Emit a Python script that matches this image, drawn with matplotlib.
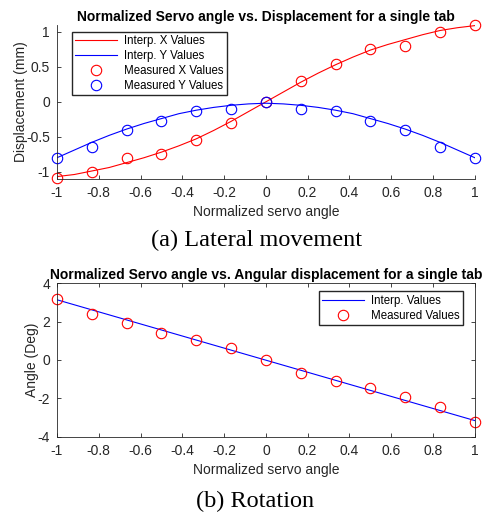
"""Servo angle vs displacement / rotation for a single tab (two panels)."""

import matplotlib
matplotlib.use("Agg")
import matplotlib.pyplot as plt

# servo positions (13 measured samples)
servo = [-1, -5/6, -4/6, -3/6, -2/6, -1/6, 0, 1/6, 2/6, 3/6, 4/6, 5/6, 1]
meas_x = [-1.09, -1.0, -0.8, -0.75, -0.54, -0.3, 0.0, 0.3, 0.54, 0.76, 0.8, 1.0, 1.1]
meas_y = [-0.8, -0.64, -0.4, -0.28, -0.13, -0.1, 0.0, -0.1, -0.13, -0.28, -0.4, -0.64, -0.8]
meas_rot = [3.18, 2.4, 1.91, 1.43, 1.04, 0.63, 0.0, -0.66, -1.08, -1.46, -1.95, -2.43, -3.22]

# interpolated curves
interp_s = [-1, -11/12, -10/12, -9/12, -8/12, -7/12, -6/12, -5/12, -4/12, -3/12,
            -2/12, -1/12, 0, 1/12, 2/12, 3/12, 4/12, 5/12, 6/12, 7/12, 8/12,
            9/12, 10/12, 11/12, 1]
interp_x = [-1.07, -1.04, -0.99, -0.94, -0.87, -0.80, -0.72, -0.63, -0.53, -0.41,
            -0.28, -0.14, 0.0, 0.14, 0.28, 0.41, 0.53, 0.64, 0.74, 0.82, 0.89,
            0.96, 1.02, 1.06, 1.09]
interp_y = [-0.80, -0.69, -0.58, -0.48, -0.39, -0.31, -0.24, -0.17, -0.12, -0.08,
            -0.05, -0.03, -0.02, -0.03, -0.05, -0.08, -0.12, -0.17, -0.24, -0.31,
            -0.39, -0.48, -0.58, -0.69, -0.80]
rot_s = [-1, 1]
rot_line = [3.14, -3.16]

AX_GREY = "#262626"
plt.rcParams["font.family"] = ["Liberation Sans", "DejaVu Sans"]
plt.rcParams["axes.unicode_minus"] = False

fig = plt.figure(figsize=(4.87, 5.16), dpi=100)
ax1 = fig.add_axes([0.117, 0.6537, 0.858, 0.298])
ax2 = fig.add_axes([0.117, 0.1537, 0.858, 0.2973])

mk = dict(ls="none", marker="o", ms=7.5, mfc="none", mew=0.8, clip_on=False)

ax1.plot(interp_s, interp_x, color="red", lw=0.8, label="Interp. X Values")
ax1.plot(interp_s, interp_y, color="blue", lw=0.8, label="Interp. Y Values")
ax1.plot(servo, meas_x, mec="red", label="Measured X Values", **mk)
ax1.plot(servo, meas_y, mec="blue", label="Measured Y Values", **mk)
ax1.set_xlim(-1, 1)
ax1.set_ylim(-1.1, 1.1)
ax1.set_yticks([-1, -0.5, 0, 0.5, 1])
ax1.set_yticklabels(["-1", "-0.5", "0", "0.5", "1"])
ax1.set_title("Normalized Servo angle vs. Displacement for a single tab",
              fontsize=10, fontweight="bold", pad=3)
ax1.set_ylabel("Displacement (mm)", fontsize=10, color=AX_GREY, labelpad=-1)
ax1.spines["top"].set_visible(False)
ax1.spines["right"].set_visible(False)
ax1.tick_params(top=False, right=False)
ax1.legend(loc="upper left", bbox_to_anchor=(0.036, 0.955), fontsize=8.3,
           fancybox=False, edgecolor=AX_GREY, framealpha=1, borderpad=0.3,
           labelspacing=0.25, handlelength=3.6, handletextpad=0.6,
           borderaxespad=0)

ax2.plot(rot_s, rot_line, color="blue", lw=0.8, label="Interp. Values")
ax2.plot(servo, meas_rot, mec="red", label="Measured Values", **mk)
ax2.set_xlim(-1, 1)
ax2.set_ylim(-4, 4)
ax2.set_yticks([-4, -2, 0, 2, 4])
ax2.set_yticklabels(["-4", "-2", "0", "2", "4"])
ax2.set_title("Normalized Servo angle vs. Angular displacement for a single tab",
              fontsize=10, fontweight="bold", pad=3)
ax2.set_ylabel("Angle (Deg)", fontsize=10, color=AX_GREY, labelpad=-1)
ax2.tick_params(top=True, right=True)
ax2.legend(loc="upper right", bbox_to_anchor=(0.971, 0.948), fontsize=8.3,
           fancybox=False, edgecolor=AX_GREY, framealpha=1, borderpad=0.3,
           labelspacing=0.25, handlelength=3.6, handletextpad=0.6,
           borderaxespad=0)

for ax in (ax1, ax2):
    ax.set_xticks([-1, -0.8, -0.6, -0.4, -0.2, 0, 0.2, 0.4, 0.6, 0.8, 1])
    ax.set_xticklabels(["-1", "-0.8", "-0.6", "-0.4", "-0.2", "0", "0.2",
                        "0.4", "0.6", "0.8", "1"])
    ax.set_xlabel("Normalized servo angle", fontsize=10, color=AX_GREY,
                  labelpad=4)
    ax.tick_params(direction="in", length=3, width=0.6, labelsize=10,
                   colors=AX_GREY, pad=5)
    for sp in ax.spines.values():
        sp.set_linewidth(0.6)
        sp.set_color(AX_GREY)

fig.text(0.526, 1 - 240 / 516, "(a) Lateral movement", ha="center",
         va="center", fontsize=17.5, family="Liberation Serif")
fig.text(0.524, 1 - 501 / 516, "(b) Rotation", ha="center", va="center",
         fontsize=17.5, family="Liberation Serif")

fig.savefig("out.png", dpi=100)
plt.close(fig)
